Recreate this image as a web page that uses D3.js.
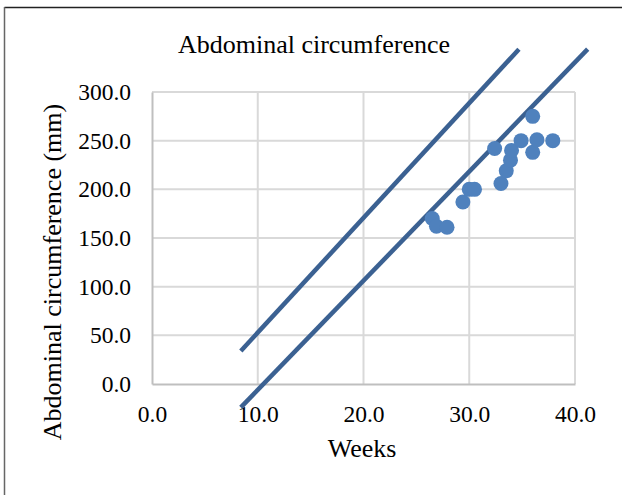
<!DOCTYPE html>
<html>
<head>
<meta charset="utf-8">
<script src="https://cdn.jsdelivr.net/npm/d3@7"></script>
<style>
  html, body { margin: 0; padding: 0; background: #fff; }
  svg { display: block; }
  text { font-family: "Liberation Serif", "Times New Roman", serif; fill: #000; }
</style>
</head>
<body>
<svg id="chart" width="622" height="495"></svg>
<script>
// Measured abdominal circumference by gestational age
const weeks = [26.5, 26.9, 27.9, 29.4, 30.0, 30.5, 32.4, 33.0, 33.5, 33.9, 34.0, 34.9, 36.0, 36.0, 36.4, 37.9];
const circumference = [170, 162, 161, 187, 200, 200, 242, 206, 219, 230, 240, 250, 238, 275, 251, 250];

// Reference band boundaries (upper and lower lines)
const upperWeeks = [8.4, 34.7];
const upperValues = [34, 344];
const lowerWeeks = [8.4, 41.2];
const lowerValues = [-24, 344];

// Axis ticks
const xTicks = [0, 10, 20, 30, 40];
const yTicks = [0, 50, 100, 150, 200, 250, 300];

const svg = d3.select("#chart");

const x = d3.scaleLinear().domain([0, 40]).range([152, 575]);
const y = d3.scaleLinear().domain([0, 300]).range([384, 92]);

// Outer frame (top and left edges)
svg.append("line").attr("x1", 4.5).attr("x2", 622).attr("y1", 7.5).attr("y2", 7.5)
  .attr("stroke", "#222").attr("stroke-width", 1.5);
svg.append("line").attr("x1", 4.5).attr("x2", 4.5).attr("y1", 7).attr("y2", 495)
  .attr("stroke", "#666").attr("stroke-width", 1.5);

// Gridlines
const grid = svg.append("g");
grid.selectAll(".gx").data(xTicks.filter(d => d > 0)).join("line")
  .attr("x1", d => x(d)).attr("x2", d => x(d))
  .attr("y1", y(300)).attr("y2", y(0))
  .attr("stroke", "#d9d9d9").attr("stroke-width", 2);
grid.selectAll(".gy").data(yTicks.filter(d => d > 0)).join("line")
  .attr("x1", x(0)).attr("x2", x(40))
  .attr("y1", d => y(d)).attr("y2", d => y(d))
  .attr("stroke", "#d9d9d9").attr("stroke-width", 2);

// Axes
const xAxis = d3.axisBottom(x).tickValues(xTicks).tickFormat(d3.format(".1f")).tickSize(0).tickPadding(21);
const yAxis = d3.axisLeft(y).tickValues(yTicks).tickFormat(d3.format(".1f")).tickSize(0).tickPadding(21);

const gx = svg.append("g").attr("transform", `translate(0,${y(0)})`).call(xAxis);
const gy = svg.append("g").attr("transform", `translate(${x(0)},0)`).call(yAxis);
[gx, gy].forEach(g => {
  g.select(".domain").attr("stroke", "#bfbfbf").attr("stroke-width", 2);
  g.selectAll("text").attr("font-family", "Liberation Serif, Times New Roman, serif")
    .attr("font-size", 23.5).attr("fill", "#000");
});

// Reference lines
const line = d3.line().x(d => x(d[0])).y(d => y(d[1]));
const bands = [
  d3.zip(upperWeeks, upperValues),
  d3.zip(lowerWeeks, lowerValues)
];
svg.append("g").selectAll("path").data(bands).join("path")
  .attr("d", line)
  .attr("fill", "none")
  .attr("stroke", "#3b6192")
  .attr("stroke-width", 4.5);

// Measurements
svg.append("g").selectAll("circle").data(d3.zip(weeks, circumference)).join("circle")
  .attr("cx", d => x(d[0]))
  .attr("cy", d => y(d[1]))
  .attr("r", 7.5)
  .attr("fill", "#4f81bd");

// Titles
svg.append("text").attr("x", 314).attr("y", 53).attr("text-anchor", "middle")
  .attr("font-size", 26).text("Abdominal circumference");
svg.append("text").attr("x", 362).attr("y", 457).attr("text-anchor", "middle")
  .attr("font-size", 26).text("Weeks");
svg.append("text").attr("transform", "translate(61,272) rotate(-90)")
  .attr("text-anchor", "middle").attr("font-size", 26)
  .text("Abdominal circumference (mm)");
</script>
</body>
</html>
